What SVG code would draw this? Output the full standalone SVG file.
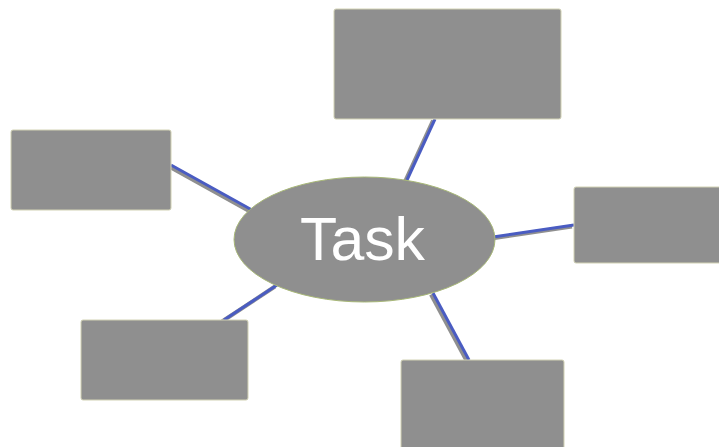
<svg xmlns="http://www.w3.org/2000/svg" width="719" height="447" viewBox="0 0 719 447">
  <style>
    .box { fill: #8f8f8f; stroke: #d2d2b4; stroke-width: 1; }
    .ell { fill: #8f8f8f; stroke: #a8b878; stroke-width: 1; }
    .shadow { stroke: #8f8f8f; stroke-width: 4; stroke-linecap: butt; fill: none; }
    .edge { stroke: #4a5cc2; stroke-width: 3; stroke-linecap: butt; fill: none; }
    .label { font-family: "Liberation Sans", Arial, sans-serif; font-size: 61px; fill: #ffffff; }
  </style>
  <rect width="719" height="447" fill="#ffffff"/>
  <g id="connectors">
    <g transform="translate(-2,1.5)">
      <line class="shadow" x1="435" y1="119" x2="407" y2="180"/>
      <line class="shadow" x1="171" y1="165" x2="252" y2="210"/>
      <line class="shadow" x1="493" y1="237" x2="574" y2="225"/>
      <line class="shadow" x1="433" y1="293" x2="469" y2="360"/>
      <line class="shadow" x1="224" y1="320" x2="277" y2="285"/>
    </g>
    <line class="edge" x1="435" y1="119" x2="407" y2="180"/>
    <line class="edge" x1="171" y1="165" x2="252" y2="210"/>
    <line class="edge" x1="493" y1="237" x2="574" y2="225"/>
    <line class="edge" x1="433" y1="293" x2="469" y2="360"/>
    <line class="edge" x1="224" y1="320" x2="277" y2="285"/>
  </g>
  <g id="node-top">
    <rect class="box" x="334" y="9" width="227" height="110" rx="2"/>
  </g>
  <g id="node-left">
    <rect class="box" x="11" y="130" width="160" height="80" rx="2"/>
  </g>
  <g id="node-right">
    <rect class="box" x="574" y="187" width="150" height="76" rx="2"/>
  </g>
  <g id="node-bottom-left">
    <rect class="box" x="81" y="320" width="167" height="80" rx="2"/>
  </g>
  <g id="node-bottom">
    <rect class="box" x="401" y="360" width="163" height="95" rx="2"/>
  </g>
  <g id="node-task">
    <ellipse class="ell" cx="364.5" cy="239.5" rx="130.5" ry="62.5"/>
    <text class="label" x="362.5" y="260" text-anchor="middle" textLength="125" lengthAdjust="spacingAndGlyphs">Task</text>
  </g>
</svg>
